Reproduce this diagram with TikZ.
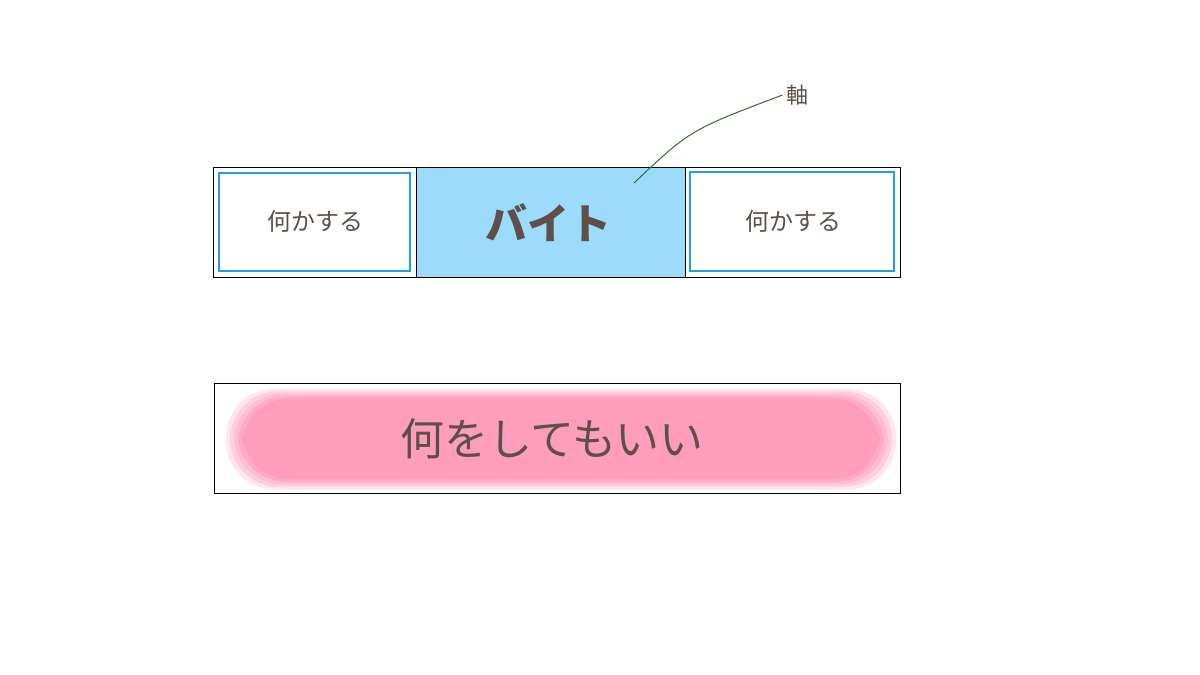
\documentclass[tikz,border=0pt]{standalone}
\usepackage{fontspec}
\newfontfamily\cjk{Noto Sans CJK JP}
\usetikzlibrary{positioning}
\definecolor{txtbrown}{HTML}{5E5048}
\definecolor{boxblue}{HTML}{1E9FE6}
\definecolor{fillblue}{HTML}{9DDBFC}
\definecolor{blobpink}{HTML}{FF99BB}
\definecolor{stemgreen}{HTML}{3F6A25}
\tikzset{
  lbl/.style={font=\cjk\fontsize{24}{28}\selectfont, text=txtbrown},
  inner box/.style={draw=boxblue, line width=1.6pt}
}
\begin{document}
\begin{tikzpicture}[x=1pt,y=-1pt]
	\useasboundingbox (0,0) rectangle (1200,675);
	%TOP BAR
	\fill[fillblue] (416,167) rectangle (685,277);
	\draw[inner box] (219,173) rectangle (410,271);
	\draw[inner box] (690,172) rectangle (894,271);
	\draw[line width=1pt] (213,167) rectangle (900,277);
	\draw[line width=1pt] (416,167) -- (416,277);
	\draw[line width=1pt] (685,167) -- (685,277);
	\node[lbl] (left) at (315,221) {何かする};
	\node[lbl] (right) at (793,221) {何かする};
	\node[lbl, font=\cjk\bfseries\fontsize{42}{46}\selectfont] (job) at (548,223) {バイト};
	%AXIS LABEL
	\node[lbl, font=\cjk\fontsize{22}{26}\selectfont] (axis) at (797,95) {軸};
	\coordinate (stem) at (634,183);
	\draw[stemgreen, line width=1pt] (stem) .. controls (690,130) .. (axis.west);
	%BOTTOM BAR
	\foreach \d/\o in {0/0.25,4/0.3,8/0.35,12/0.5,16/0.8}
	  \fill[blobpink, opacity=\o, rounded corners=48pt]
	    (226+\d,389+\d*0.6) rectangle (896-\d,489-\d*0.6);
	\draw[line width=1pt] (214,383) rectangle (900,493);
	\node[lbl, font=\cjk\fontsize{44}{48}\selectfont] (free) at (552,439) {何をしてもいい};
\end{tikzpicture}
\end{document}
